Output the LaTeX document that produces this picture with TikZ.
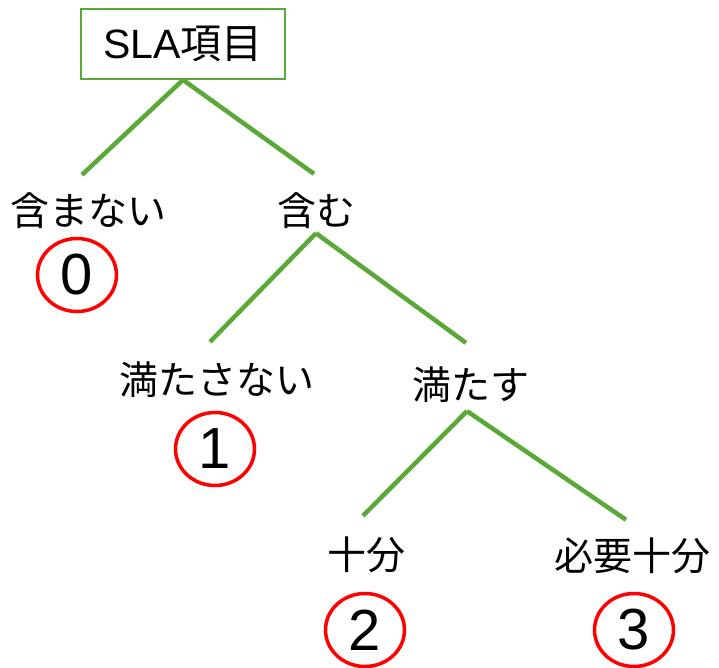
\documentclass[tikz,border=0pt]{standalone}
\usepackage{fontspec}
\setmainfont{Liberation Sans}
\newfontfamily\jp{Noto Sans CJK JP}
\usetikzlibrary{shapes.geometric}
\definecolor{branchgreen}{RGB}{90,168,56}
\begin{document}
\begin{tikzpicture}[x=1pt,y=-1pt,
  lbl/.style={inner sep=0pt, font=\fontsize{39}{44}\selectfont\jp},
  branch/.style={draw=branchgreen, line width=4.5pt},
  score/.style={ellipse, draw=red, line width=3.5pt, minimum width=79pt, minimum height=73pt, inner sep=0pt, font=\fontsize{58}{60}\selectfont},
  rootbox/.style={draw=branchgreen, line width=1.8pt, minimum width=204pt, minimum height=70pt, inner sep=0pt, font=\fontsize{41}{46}\selectfont}]
\useasboundingbox (0,0) rectangle (719,668);
\node[rootbox] (root) at (183,44) {SLA{\jp 項目}};
\node[lbl] (fukumanai) at (88,211) {含まない};
\node[lbl] (fukumu) at (316,211) {含む};
\node[lbl] (mitasanai) at (217,380) {満たさない};
\node[lbl] (mitasu) at (471,385) {満たす};
\node[lbl] (juubun) at (366,555) {十分};
\node[lbl] (hitsuyou) at (632,556) {必要十分};
\node[score] (s0) at (77,275) {0};
\node[score] (s1) at (215,449) {1};
\node[score] (s2) at (365,630) {2};
\node[score] (s3) at (634,630) {3};
\draw[branch] (root.south) -- ([xshift=-6pt,yshift=18pt]fukumanai.north);
\draw[branch] (root.south) -- ([xshift=-2pt,yshift=19pt]fukumu.north);
\draw[branch] ([yshift=-4pt]fukumu.south) -- ([xshift=-7pt,yshift=20pt]mitasanai.north);
\draw[branch] ([yshift=-4pt]fukumu.south) -- ([xshift=-5pt,yshift=24pt]mitasu.north);
\draw[branch] ([xshift=-4pt,yshift=-8pt]mitasu.south) -- ([xshift=-3pt,yshift=21pt]juubun.north);
\draw[branch] ([xshift=-4pt,yshift=-8pt]mitasu.south) -- ([xshift=-6pt,yshift=18pt]hitsuyou.north);
\end{tikzpicture}
\end{document}
